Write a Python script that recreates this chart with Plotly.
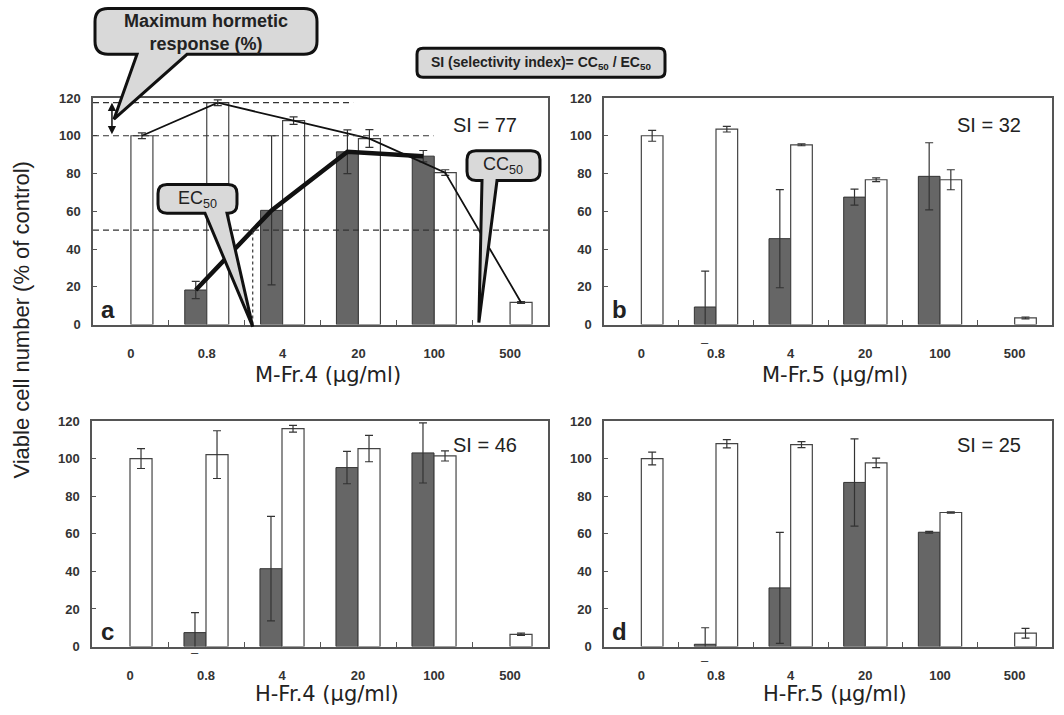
import plotly.graph_objects as go

# ---------------- data ----------------
conc_labels = ["0", "0.8", "4", "20", "100", "500"]

# M-Fr.4
mfr4_tumor = [None, 18.3, 60.5, 91.5, 89.2, None]
mfr4_tumor_err = [None, 4.6, 39.5, 11.6, 3.0, None]
mfr4_normal = [100, 117.5, 108, 98.5, 80.5, 11.7]
mfr4_normal_err = [1.5, 1.5, 2.0, 4.7, 1.5, 0.5]

# M-Fr.5
mfr5_tumor = [None, 9.3, 45.5, 67.5, 78.5, None]
mfr5_tumor_err = [None, 19.0, 26.0, 4.2, 17.8, None]
mfr5_normal = [100, 103.5, 95.2, 76.7, 76.7, 3.5]
mfr5_normal_err = [2.9, 1.5, 0.5, 1.0, 5.3, 0.5]

# H-Fr.4
hfr4_tumor = [None, 7.4, 41.4, 95.2, 103, None]
hfr4_tumor_err = [None, 10.6, 27.8, 8.6, 16.0, None]
hfr4_normal = [100, 102.1, 115.9, 105.3, 101.4, 6.5]
hfr4_normal_err = [5.3, 12.7, 1.8, 7.0, 2.7, 0.6]

# H-Fr.5
hfr5_tumor = [None, 1.2, 31.2, 87.3, 60.8, None]
hfr5_tumor_err = [None, 8.8, 29.5, 23.2, 0.5, None]
hfr5_normal = [100, 107.9, 107.4, 97.7, 71.3, 7.1]
hfr5_normal_err = [3.4, 2.2, 1.6, 2.5, 0.4, 2.6]

panel_letters = ["a", "b", "c", "d"]
panel_titles = ["M-Fr.4 (\u03bcg/ml)", "M-Fr.5 (\u03bcg/ml)",
                "H-Fr.4 (\u03bcg/ml)", "H-Fr.5 (\u03bcg/ml)"]
si_values = [77, 32, 46, 25]

# ---------------- layout geometry (pixels) ----------------
W, H = 1064, 715
FONT = "Liberation Sans"
TITLE_FONT = "DejaVu Sans"
BAR_W = 0.29
X_RANGE = [-0.5, 5.5]
Y_RANGE = [0, 120]

# (left, right, top, bottom) of every plotting area, in page pixels
boxes = [
    (93, 548, 97, 325),
    (604, 1052, 97, 325),
    (92, 548, 422, 649),
    (604, 1052, 422, 649),
]

# slight vertical spread of the page rows
Y_STRETCH, Y_SHIFT = 1.015, -5.5


def pxx(x):
    return x / W


def pxy(y):
    return 1 - (Y_STRETCH * y + Y_SHIFT) / H


def data_to_px(box, x, y):
    l, r, t, b = box
    X = l + (x - X_RANGE[0]) / (X_RANGE[1] - X_RANGE[0]) * (r - l)
    Y = b - (y - Y_RANGE[0]) / (Y_RANGE[1] - Y_RANGE[0]) * (b - t)
    return X, Y


def cross_level(xs, ys, level):
    """x where the polyline (xs, ys) first crosses `level`."""
    for i in range(len(xs) - 1):
        y0, y1 = ys[i], ys[i + 1]
        if (y0 - level) * (y1 - level) <= 0 and y0 != y1:
            f = (level - y0) / (y1 - y0)
            return xs[i] + f * (xs[i + 1] - xs[i])
    return None


def callout_path(x0, y0, x1, y1, r, tail=None):
    """Rounded box in pixels; optional tail = (base_left, base_right, tip_x, tip_y)."""
    def P(x, y):
        return f"{pxx(x):.5f},{min(pxy(y), 0.998):.5f}"
    p = f"M{P(x0 + r, y0)} L{P(x1 - r, y0)} Q{P(x1, y0)} {P(x1, y0 + r)} "
    p += f"L{P(x1, y1 - r)} Q{P(x1, y1)} {P(x1 - r, y1)} "
    if tail:
        bl, br, tx, ty = tail
        p += f"L{P(br, y1)} L{P(tx, ty)} L{P(bl, y1)} "
    p += f"L{P(x0 + r, y1)} Q{P(x0, y1)} {P(x0, y1 - r)} "
    p += f"L{P(x0, y0 + r)} Q{P(x0, y0)} {P(x0 + r, y0)} Z"
    return p


def label(x, y, text, size, family=FONT, color="#222222", **kw):
    return dict(x=pxx(x), y=pxy(y), xref="paper", yref="paper", text=text,
                showarrow=False, xanchor="center", yanchor="middle",
                font=dict(family=family, size=size, color=color), **kw)


fig = go.Figure()

datasets = [
    (mfr4_tumor, mfr4_tumor_err, mfr4_normal, mfr4_normal_err),
    (mfr5_tumor, mfr5_tumor_err, mfr5_normal, mfr5_normal_err),
    (hfr4_tumor, hfr4_tumor_err, hfr4_normal, hfr4_normal_err),
    (hfr5_tumor, hfr5_tumor_err, hfr5_normal, hfr5_normal_err),
]

positions = list(range(len(conc_labels)))
annotations = []
shapes = []

for k, (tum, tum_e, nor, nor_e) in enumerate(datasets):
    xa = "x" if k == 0 else f"x{k + 1}"
    ya = "y" if k == 0 else f"y{k + 1}"
    box = boxes[k]
    # tumour cells: dark bars, left of each dose
    fig.add_trace(go.Bar(
        x=positions, y=tum, width=BAR_W, offset=-BAR_W,
        marker=dict(color="#666666", line=dict(color="#333333", width=1)),
        error_y=dict(type="data", array=tum_e, visible=True,
                     color="#333333", thickness=1.2, width=4),
        xaxis=xa, yaxis=ya, showlegend=False))
    # normal cells: open bars, right of each dose
    fig.add_trace(go.Bar(
        x=positions, y=nor, width=BAR_W, offset=0,
        marker=dict(color="white", line=dict(color="#444444", width=1.2)),
        error_y=dict(type="data", array=nor_e, visible=True,
                     color="#333333", thickness=1.2, width=4),
        xaxis=xa, yaxis=ya, showlegend=False))
    # lower error caps that fall below the zero line
    for i, (v, e) in enumerate(zip(tum, tum_e)):
        if v is not None and v - e < 0:
            cx, cy = data_to_px(box, i - BAR_W / 2, v - e)
            annotations.append(label(cx, cy, "\u2013", 13, color="#333333"))

    l, r, t, b = box
    annotations.append(label(l + 15, b - 15, f"<b>{panel_letters[k]}</b>", 24))
    annotations.append(label(r - 63, t + 27 if k < 2 else t + 24,
                             f"SI = {si_values[k]}", 20))
    annotations.append(label((l + r) / 2 + 7, b + (51 if k < 2 else 48),
                             panel_titles[k], 21, family=TITLE_FONT))

    axis_common = dict(showline=True, mirror=True, linecolor="#555555",
                       linewidth=1.5, showgrid=False, zeroline=False)
    fig.update_layout({
        ("xaxis" if k == 0 else f"xaxis{k + 1}"): dict(
            domain=[pxx(l), pxx(r)], anchor=ya, range=X_RANGE,
            tickmode="array", tickvals=positions, ticktext=conc_labels,
            ticks="", ticklabelstandoff=16,
            tickfont=dict(family=FONT, size=13, color="#333333", weight="bold"),
            minor=dict(tickmode="array", tickvals=[i + 0.5 for i in positions[:-1]],
                       ticks="inside", ticklen=5, tickcolor="#555555", tickwidth=1.2),
            **axis_common),
        ("yaxis" if k == 0 else f"yaxis{k + 1}"): dict(
            domain=[pxy(b), pxy(t)], anchor=xa, range=Y_RANGE,
            tickmode="array", tickvals=[0, 20, 40, 60, 80, 100, 120],
            ticks="inside", ticklen=4, tickcolor="#555555",
            ticklabelstandoff=8,
            tickfont=dict(family=FONT, size=13, color="#333333", weight="bold"),
            **axis_common),
    })

# ---------------- panel a: dose-response curves and markers ----------------
normal_x = [i + BAR_W / 2 for i in positions]
tumor_idx = [i for i, v in enumerate(mfr4_tumor) if v is not None]
tumor_x = [i - BAR_W / 2 for i in tumor_idx]
tumor_y = [mfr4_tumor[i] for i in tumor_idx]

fig.add_trace(go.Scatter(x=normal_x, y=mfr4_normal, mode="lines",
                         line=dict(color="#111111", width=1.8),
                         xaxis="x", yaxis="y", showlegend=False, hoverinfo="skip"))
fig.add_trace(go.Scatter(x=tumor_x, y=tumor_y, mode="lines",
                         line=dict(color="#111111", width=4.5),
                         xaxis="x", yaxis="y", showlegend=False, hoverinfo="skip"))

peak = max(mfr4_normal)
ec50_x = cross_level(tumor_x, tumor_y, 50)
cc50_x = cross_level(normal_x[3:], mfr4_normal[3:], 50)

dash = "6px,4px"
shapes += [
    dict(type="line", xref="x", yref="y", x0=-0.5, x1=2.93, y0=peak, y1=peak,
         line=dict(color="#333333", width=1.2, dash=dash)),
    dict(type="line", xref="x", yref="y", x0=-0.5, x1=3.99, y0=100, y1=100,
         line=dict(color="#333333", width=1.2, dash=dash)),
    dict(type="line", xref="x", yref="y", x0=-0.5, x1=5.5, y0=50, y1=50,
         line=dict(color="#333333", width=1.2, dash=dash)),
    dict(type="line", xref="x", yref="y", x0=ec50_x, x1=ec50_x, y0=0, y1=50,
         line=dict(color="#333333", width=1.2, dash="3px,3px")),
]

# double-headed arrow for the hormetic response
arrow_x = -0.25
annotations.append(dict(
    x=arrow_x, y=peak, ax=arrow_x, ay=100, xref="x", yref="y", axref="x", ayref="y",
    text="", showarrow=True, arrowhead=2, arrowside="end+start",
    arrowsize=1.1, arrowwidth=1.5, arrowcolor="#111111"))

box_a = boxes[0]
arrow_px = data_to_px(box_a, arrow_x, (peak + 100) / 2)
ec50_px = data_to_px(box_a, ec50_x, 0)
cc50_px = data_to_px(box_a, cc50_x, 0)

callout_style = dict(type="path", xref="paper", yref="paper",
                     fillcolor="#d9d9d9", line=dict(color="#111111", width=3),
                     layer="above")
shapes += [
    dict(path=callout_path(95, 7, 317, 53, 13,
                           (137, 187, arrow_px[0] + 2, arrow_px[1])), **callout_style),
    dict(path=callout_path(417, 47, 665, 76, 6), **callout_style),
    dict(path=callout_path(158, 184, 237, 213, 9,
                           (205, 227, ec50_px[0], ec50_px[1] + 2)), **callout_style),
    dict(path=callout_path(467, 150, 540, 180, 9,
                           (482, 497, cc50_px[0], cc50_px[1] - 2)), **callout_style),
]

annotations += [
    label(206, 31, "<b>Maximum hormetic<br>response (%)</b>", 18, align="center"),
    label(541, 62, "<b>SI (selectivity index)= CC<sub>50</sub> / EC<sub>50</sub></b>", 14),
    label(197, 199, "EC<sub>50</sub>", 18),
    label(503, 165, "CC<sub>50</sub>", 18),
    # shared y-axis title
    label(22, 320, "Viable cell number (% of control)", 22, textangle=-90),
]

fig.update_layout(
    width=W, height=H, margin=dict(l=0, r=0, t=0, b=0),
    paper_bgcolor="white", plot_bgcolor="white",
    barmode="overlay", shapes=shapes, annotations=annotations,
    font=dict(family=FONT),
)

fig.write_html("out.html")
